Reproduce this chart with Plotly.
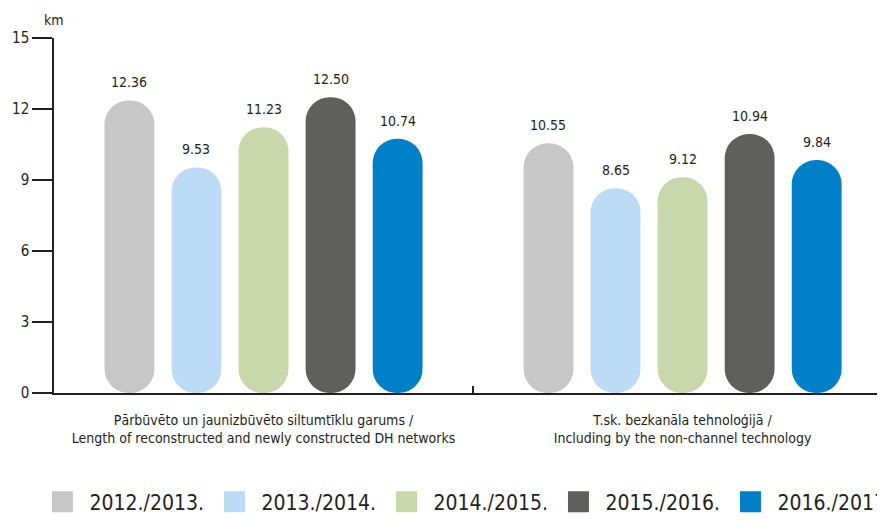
import plotly.graph_objects as go

# kategorijas (divrindu nosaukumi)
kategorijas = [
    "Pārbūvēto un jaunizbūvēto siltumtīklu garums /<br>Length of reconstructed and newly constructed DH networks",
    "T.sk. bezkanāla tehnoloģijā /<br>Including by the non-channel technology",
]
gadi = ["2012./2013.", "2013./2014.", "2014./2015.", "2015./2016.", "2016./2017"]

v_2012 = [12.36, 10.55]
v_2013 = [9.53, 8.65]
v_2014 = [11.23, 9.12]
v_2015 = [12.50, 10.94]
v_2016 = [10.74, 9.84]
vertibas = [v_2012, v_2013, v_2014, v_2015, v_2016]

krasas = ["#c6c7c6", "#bcdbf4", "#c8d8ab", "#5f5f5e", "#0080c9"]

FONTS = "DejaVu Sans Condensed, Liberation Sans Narrow, sans-serif"
TXT = "#231f20"

bw = 0.119   # stabina platums
solis = 0.16  # attālums starp stabiņiem

fig = go.Figure()
uzraksti = []
for i, (gads, vals, kr) in enumerate(zip(gadi, vertibas, krasas)):
    off = (i - 2) * solis - bw / 2
    # ar norādītu bāzi stabiņš tiek noapaļots abos galos
    fig.add_trace(go.Bar(
        x=kategorijas, y=vals, base=0, width=bw, offset=off,
        marker=dict(color=kr, cornerradius=25, line=dict(width=0)),
        showlegend=False, hoverinfo="skip",
    ))
    # leģendai
    fig.add_trace(go.Scatter(
        x=[None], y=[None], mode="markers", name=gads,
        marker=dict(symbol="square", size=16, color=kr, line=dict(width=5, color=kr)),
    ))
    # vērtības virs stabiņiem
    for j, v in enumerate(vals):
        uzraksti.append(dict(
            x=j + (i - 2) * solis, y=v, xref="x", yref="y",
            text=f"{v:.2f}", showarrow=False, yanchor="middle", yshift=18,
            font=dict(family=FONTS, size=14, color=TXT),
        ))

uzraksti.append(dict(
    text="km", xref="paper", yref="paper", x=0, y=1, xanchor="center",
    yanchor="bottom", yshift=8, showarrow=False,
    font=dict(family=FONTS, size=14, color=TXT),
))

# lapai ir 8px body atkāpe, tāpēc figūra ir par 8px mazāka
fig.update_layout(
    width=877, height=523,
    margin=dict(l=46, r=0, t=30, b=138, autoexpand=False),
    barmode="overlay",
    plot_bgcolor="white", paper_bgcolor="white",
    font=dict(family=FONTS, color=TXT),
    legend=dict(
        orientation="h", x=-0.0223, y=-0.307, xanchor="left", yanchor="middle",
        entrywidth=113, entrywidthmode="pixels", itemsizing="trace", itemwidth=44,
        font=dict(family=FONTS, size=21, color=TXT), traceorder="normal",
    ),
    annotations=uzraksti,
)
fig.update_yaxes(
    range=[0, 15], tickvals=[0, 3, 6, 9, 12, 15],
    ticks="outside", ticklen=20, tickwidth=1.5, tickcolor=TXT,
    showline=True, linecolor=TXT, linewidth=1.5,
    showgrid=False, zeroline=False,
    tickfont=dict(family=FONTS, size=15, color=TXT),
)
fig.update_xaxes(
    type="category", range=[-0.5, 1.483], tickangle=0,
    ticks="inside", tickson="boundaries", ticklen=7, tickwidth=1.5, tickcolor=TXT,
    showline=True, linecolor=TXT, linewidth=1.5, showgrid=False,
    tickfont=dict(family=FONTS, size=14, color=TXT),
    ticklabelstandoff=13,
)

fig.write_html("out.html")
